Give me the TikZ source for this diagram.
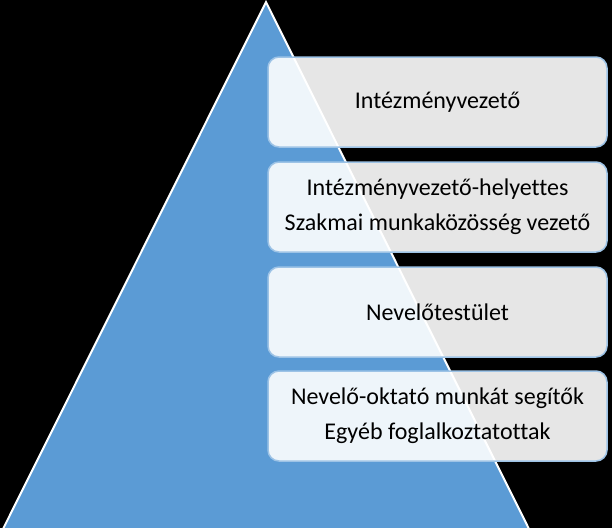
\documentclass[tikz,border=0pt]{standalone}
\usepackage{fontspec}
\setmainfont{Carlito}[Ligatures=NoCommon]
\definecolor{pyrblue}{RGB}{91,155,213}
\definecolor{boxedge}{RGB}{157,195,230}
\tikzset{
  levelbox/.style={draw=boxedge, line width=1.5pt, fill=white, fill opacity=0.9,
    text opacity=1, rounded corners=11pt, minimum width=339pt, minimum height=90pt,
    align=center, inner sep=0pt, font=\fontsize{24}{35}\selectfont}
}
\begin{document}
\begin{tikzpicture}[x=1pt, y=-1pt]
			%%%%% START %%%%%
			
			\fill[black] (0, 0) rectangle (612, 528);
			\useasboundingbox (0, 0) rectangle (612, 528);
			
			\draw[fill=pyrblue, draw=white, line width=2pt] (266, 2) -- (529, 529) -- (3, 529) -- cycle;
			
			\node[levelbox] (lvl1) at (437.5, 102) {Intézményvezető};
			\node[levelbox] (lvl2) at (437.5, 207) {Intézményvezető-helyettes\\Szakmai munkaközösség vezető};
			\node[levelbox] (lvl3) at (437.5, 312) {Nevelőtestület};
			\node[levelbox] (lvl4) at (437.5, 416) {Nevelő-oktató munkát segítők\\Egyéb foglalkoztatottak};
			
			%%%%% END %%%%%
\end{tikzpicture}
\end{document}
